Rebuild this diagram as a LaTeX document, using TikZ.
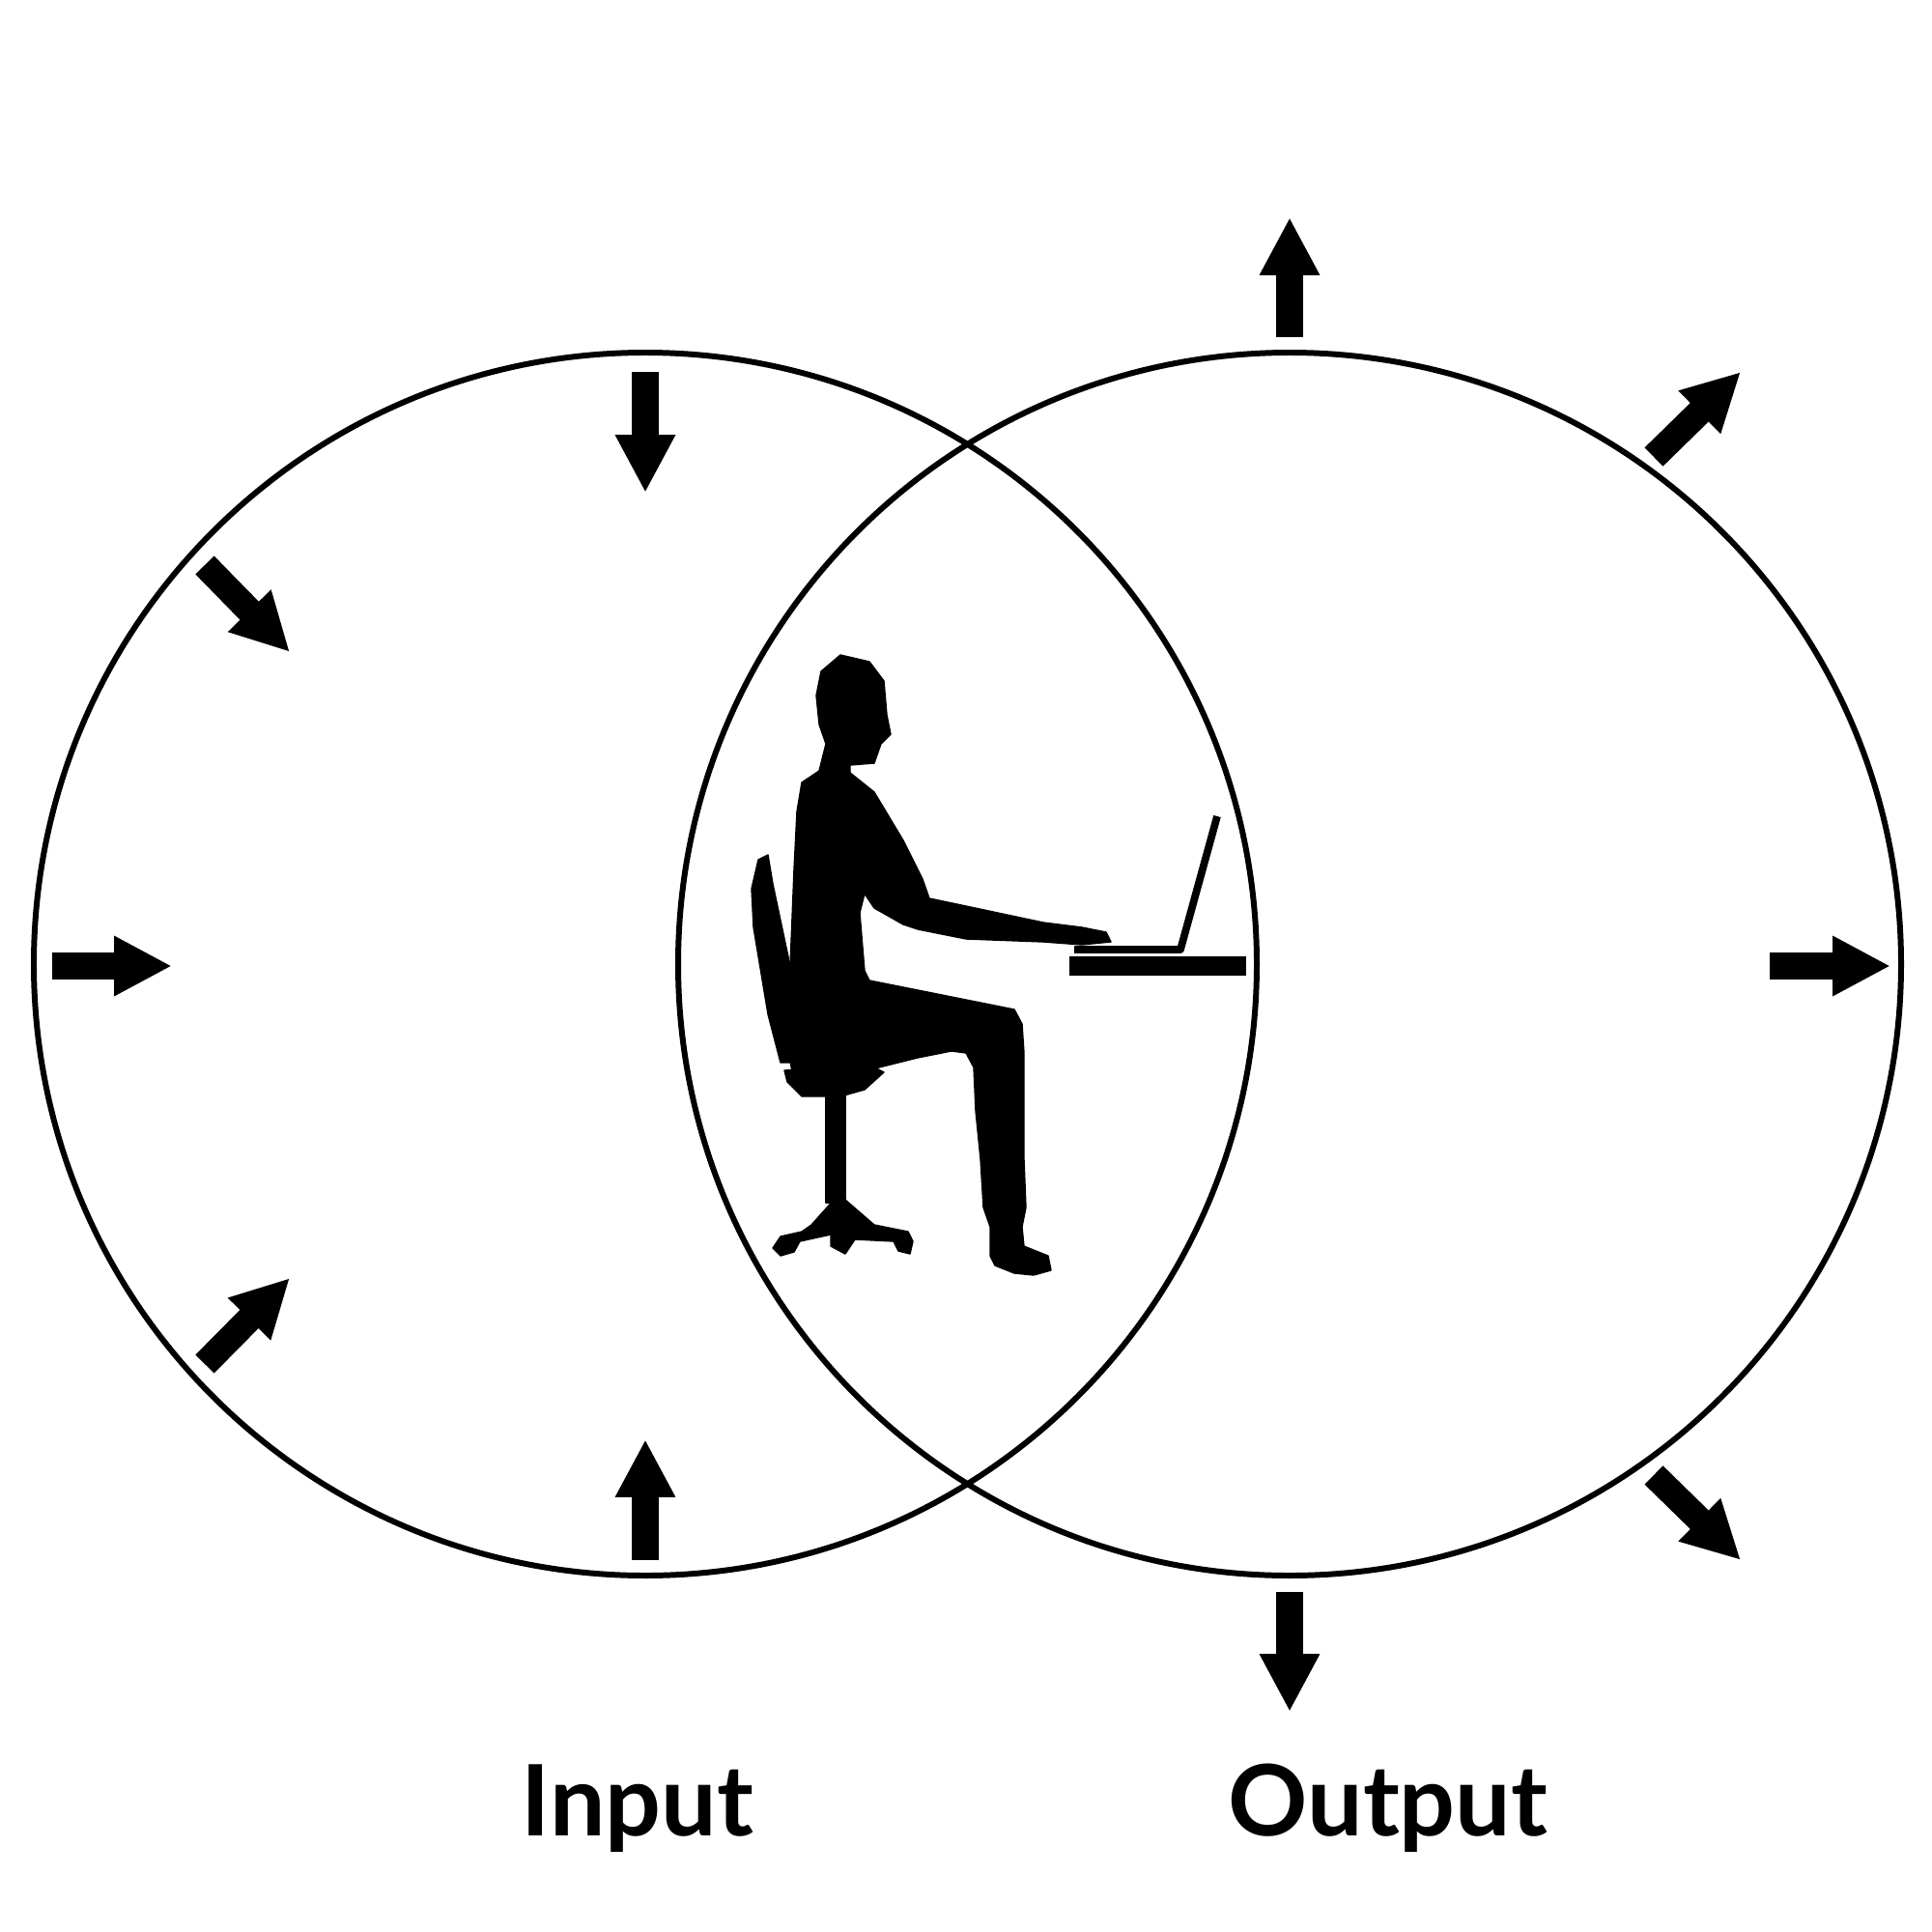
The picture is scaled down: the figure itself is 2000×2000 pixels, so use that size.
\documentclass[tikz,border=0pt]{standalone}
\usepackage{fontspec}
\setmainfont{Lato}
\usetikzlibrary{arrows.meta}
\begin{document}
\begin{tikzpicture}[x=0.01cm,y=-0.01cm,
 ring/.style={line width=1.7pt},
 blk/.style={line width=7.7pt,-{Triangle[width=16.5pt,length=17pt]}},
 lbl/.style={font=\bfseries\fontsize{29}{35}\selectfont},
 sil/.style={fill=black,draw=black,line join=round}]
\useasboundingbox (0,0) rectangle (2000,2000);
\node[ring,draw,circle,minimum size=1266*0.01cm,inner sep=0] (L) at (668,998) {};
\node[ring,draw,circle,minimum size=1266*0.01cm,inner sep=0] (R) at (1335,998) {};
% inward arrows
\coordinate (a1) at (668,385); \coordinate (b1) at (668,510);
\coordinate (a3) at (668,1615); \coordinate (b3) at (668,1490);
\coordinate (a4) at (54,1000); \coordinate (b4) at (178,1000);
\coordinate (a5) at (212,585); \coordinate (b5) at (300,675);
\coordinate (a6) at (212,1412); \coordinate (b6) at (300,1323);
\foreach \p in {1,3,4,5,6} \draw[blk] (a\p) -- (b\p);
% outward arrows
\coordinate (c1) at (1335,349); \coordinate (d1) at (1335,225);
\coordinate (c2) at (1335,1648); \coordinate (d2) at (1335,1772);
\coordinate (c3) at (1832,1000); \coordinate (d3) at (1957,1000);
\coordinate (c4) at (1712,473); \coordinate (d4) at (1802,385);
\coordinate (c5) at (1712,1527); \coordinate (d5) at (1802,1615);
\foreach \p in {1,...,5} \draw[blk] (c\p) -- (d\p);
\node[lbl] (in) at (660,1872) {Input};
\node[lbl] (out) at (1437,1872) {Output};
% laptop and desk
\draw[line width=2.2pt,line join=round] (1260,845) -- (1222,983) -- (1112,983);
\fill (1107,990) rectangle (1290,1010);
% chair
\fill[sil] (785,890)--(795,885)--(800,915)--(818,1000)--(815,1080)--(818,1100)--(808,1100)--(795,1050)--(780,960)--(778,920)--cycle;
\fill[sil] (812,1108)--(905,1105)--(915,1110)--(895,1128)--(870,1135)--(830,1135)--(815,1120)--cycle;
\fill[sil] (855,1125) rectangle (875,1245);
\fill[sil] (865,1240)--(840,1268)--(830,1275)--(808,1280)--(800,1292)--(808,1300)--(822,1296)--(828,1285)--(860,1278)--(860,1290)--(875,1298)--(885,1283)--(925,1285)--(930,1295)--(942,1298)--(945,1285)--(940,1275)--(905,1268)--(875,1242)--cycle;
% person
\fill[sil] (870,678)--(900,685)--(915,705)--(918,740)--(922,760)--(912,770)--(905,790)--(880,792)--(880,800)--(905,820)--(935,870)--(955,910)--(962,930)--(1000,938)--(1080,955)--(1120,960)--(1145,965)--(1150,975)--(1120,978)--(1080,975)--(1000,972)--(950,962)--(935,957)--(905,940)--(895,925)--(890,945)--(895,1005)--(900,1015)--(1000,1035)--(1050,1045)--(1058,1060)--(1060,1090)--(1060,1200)--(1062,1250)--(1058,1270)--(1060,1290)--(1085,1300)--(1088,1315)--(1070,1320)--(1050,1318)--(1030,1310)--(1025,1300)--(1025,1270)--(1018,1250)--(1015,1200)--(1010,1150)--(1008,1105)--(1000,1090)--(985,1088)--(950,1095)--(890,1110)--(850,1115)--(820,1110)--(815,1080)--(818,1000)--(822,900)--(825,840)--(830,810)--(848,798)--(855,770)--(848,750)--(845,720)--(850,695)--cycle;
\end{tikzpicture}
\end{document}
